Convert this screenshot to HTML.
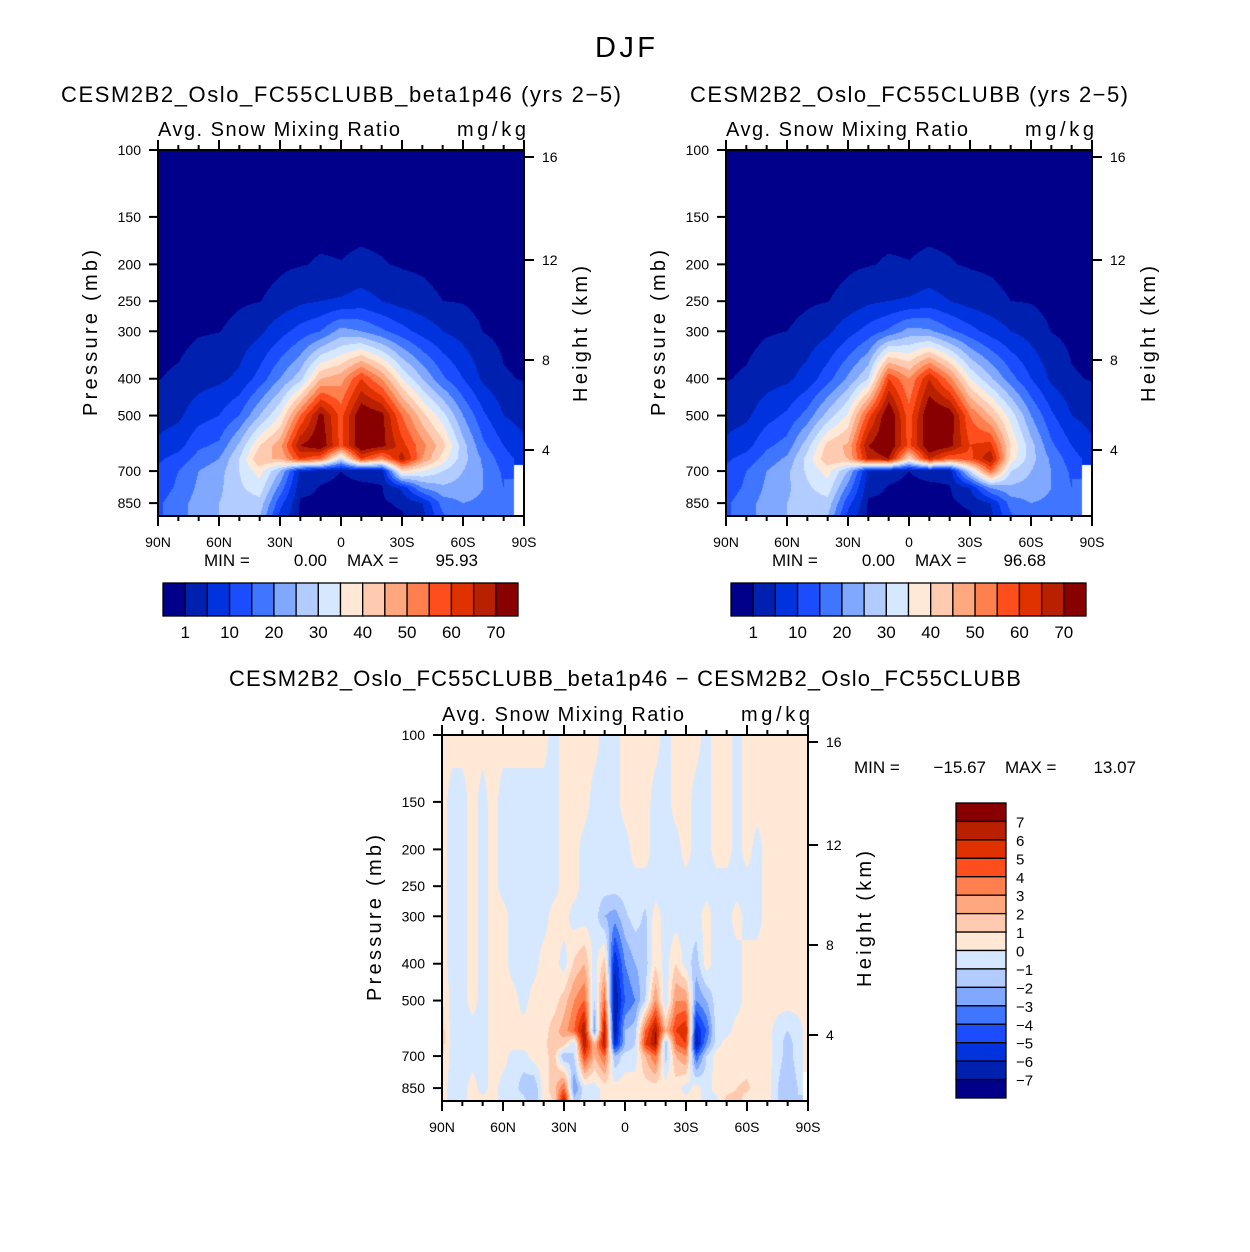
<!DOCTYPE html>
<html><head><meta charset="utf-8"><style>
html,body{margin:0;padding:0;background:#fff}
#root{position:relative;width:1250px;height:1252px;background:#fff;overflow:hidden}
canvas{position:absolute}
svg{position:absolute;left:0;top:0}
text{font-family:"Liberation Sans",sans-serif;fill:#000}
</style></head><body>
<div id="root">
<canvas id="c1" width="366" height="366" style="left:158px;top:150px"></canvas>
<canvas id="c2" width="366" height="366" style="left:726px;top:150px"></canvas>
<canvas id="c3" width="366" height="366" style="left:442px;top:735px"></canvas>
<svg id="ov" width="1250" height="1252">
<text x="625" y="57" font-size="29" text-anchor="middle" textLength="60">DJF</text>
<text x="61" y="102" font-size="22" textLength="560">CESM2B2_Oslo_FC55CLUBB_beta1p46 (yrs 2−5)</text>
<text x="690" y="102" font-size="22" textLength="438">CESM2B2_Oslo_FC55CLUBB (yrs 2−5)</text>
<text x="229" y="686" font-size="22" textLength="792">CESM2B2_Oslo_FC55CLUBB_beta1p46 − CESM2B2_Oslo_FC55CLUBB</text>
<g>
<text x="854" y="773" font-size="17">MIN =</text>
<text x="986" y="773" font-size="17" text-anchor="end">−15.67</text>
<text x="1005" y="773" font-size="17">MAX =</text>
<text x="1136" y="773" font-size="17" text-anchor="end">13.07</text>
</g>
</svg>
</div>
<script>
// ---------- data ----------
const levelsAbs = [100,150,200,250,300,400,500,600,650,700,775,850,925];
const levelsDiff = [100,150,200,250,300,400,500,600,650,700,850,925];
const latsCoarse = ['90N','80N','70N','60N','50N','40N','30N','20N','10N','0','10S','20S','30S','40S','50S','60S','70S','80S','90S'];
const absLevels = [1,5,10,15,20,25,30,35,40,45,50,55,60,65,70];
const absLabels = ['1','10','20','30','40','50','60','70'];
const diffLevels = [-7,-6,-5,-4,-3,-2,-1,0,1,2,3,4,5,6,7];
const diffLabels = ['7','6','5','4','3','2','1','0','−1','−2','−3','−4','−5','−6','−7'];
const xTickLabels = ['90N','60N','30N','0','30S','60S','90S'];
const pTicks = [100,150,200,250,300,400,500,700,850];
const hTicks = ['16','12','8','4'];
const hTickY = [7,110,210,300];
const palette = ['#00008a','#0021b0','#0033dd','#1b4dff','#4076ff','#80a8ff','#b3ccff','#d6e8ff','#ffe8d6','#ffcbb0','#ffa880','#ff7f4e','#ff4e1d','#e03200','#b82000','#880000'];
const N = NaN;
// panel 1 columns (90N..90S), values at levelsAbs
const field1 = [
[0,0,0,0,0,0.9,3,6,9,11,12,14,14],
[0,0,0,0,0,1.5,4,8,12,15,16,18,18],
[0,0,0,0,0.7,3,8,14,17,20,21,22,22],
[0,0,0,0,0.9,4,10,16,20,23,24,25,25],
[0,0,0,0.6,2,6,15,26,30,30,29,27,26],
[0,0,0,0.9,4,12,25,40,45,37,33,28,25],
[0,0,0.5,2,8,20,35,48,45,25,18,12,8],
[0,0,0.8,4,12,28,55,70,60,4,2,0.5,0.5],
[0,0,1.3,5,15,45,72,75,55,2,0.8,0.5,0.5],
[0,0,1.1,5.5,22,48,58,58,30,1,0.4,0.3,0.3],
[0,0,1.6,7,20,60,75,76,60,2,0.4,0.3,0.3],
[0,0,1.2,5,16,50,72,72,50,2,0.8,0.5,0.5],
[0,0,0.7,3,12,35,55,62,68,40,6,1.5,0.5],
[0,0,0.5,2,8,25,42,52,50,35,20,5,3],
[0,0,0,1,5,16,32,42,38,30,24,17,14],
[0,0,0,0.8,3,10,20,27,27,25,23,20,19],
[0,0,0,0,0.9,4,11,16,19,20,20,19,18],
[0,0,0,0,0.3,1.3,5,10,12,14,15,15,15],
[0,0,0,0,0,0.8,3,6,8,N,N,N,N]];
const field2 = [
[0,0,0,0,0,0.8,3,6,9,11,12,14,14],
[0,0,0,0,0,1.4,4,8,12,15,16,18,18],
[0,0,0,0,0.7,3,8,14,17,20,21,22,22],
[0,0,0,0,1,4,11,17,21,24,24,25,25],
[0,0,0,0.6,2,7,17,28,32,31,29,27,26],
[0,0,0,0.9,4,13,27,42,44,37,33,28,25],
[0,0,0.5,2,8,21,36,46,45,25,18,12,8],
[0,0,0.8,4,12,30,58,70,66,4,2,0.5,0.5],
[0,0,1.3,5,16,60,76,76,70,2,0.8,0.5,0.5],
[0,0,1.1,5.5,22,50,57,58,40,1,0.4,0.3,0.3],
[0,0,1.6,7,21,65,76,76,65,2,0.4,0.3,0.3],
[0,0,1.2,5,16,52,74,72,55,2,0.8,0.5,0.5],
[0,0,0.7,3,12,35,55,60,58,30,5,1.5,0.5],
[0,0,0.5,2,8,26,45,62,70,55,20,5,3],
[0,0,0,1,5,17,33,40,38,30,24,17,14],
[0,0,0,0.8,3,10,20,27,27,25,23,20,19],
[0,0,0,0,0.9,4,11,16,19,20,20,19,18],
[0,0,0,0,0.3,1.3,5,10,12,14,15,15,15],
[0,0,0,0,0,0.8,3,6,8,N,N,N,N]];
// panel 3 rows (one per levelsDiff), 37 latitudes 90N..90S step 5
const diffRows = [
[0.5,0.5,0.5,0.5,0.5,0.5,0.5,0.5,0.5,0.5,0.5,-0.5,0.5,0.5,0.5,0.5,-0.5,-0.5,0.5,0.5,0.5,0.5,-0.5,0.5,0.5,0.5,-0.5,0.5,0.5,-0.5,0.5,0.5,0.5,0.5,0.5,0.5,0.5],
[0.5,-0.5,-0.5,0.5,-0.5,0.5,-0.5,-0.5,-0.5,-0.5,-0.5,-0.5,0.5,0.5,0.5,-0.5,-0.5,-0.5,0.5,0.5,0.5,-0.5,-0.5,0.5,0.5,-0.5,-0.5,0.5,0.5,-0.5,0.5,0.5,0.5,0.5,0.5,0.5,0.5],
[0.5,-0.5,-0.5,0.5,-0.5,0.5,-0.5,-0.5,-0.5,-0.5,-0.5,-0.5,0.5,0.5,-0.5,-0.5,-0.5,-0.5,-0.5,0.5,0.5,-0.5,-0.5,-0.5,0.5,-0.5,-0.5,0.5,0.5,-0.5,0.5,-0.5,0.5,0.5,0.5,0.5,0.5],
[0.5,-0.5,-0.5,0.5,-0.5,0.5,-0.5,-0.5,-0.5,-0.5,-0.5,-0.5,0.5,0.5,-0.5,-0.5,-0.5,-0.5,-0.5,-0.5,-0.5,-0.5,-0.5,-0.5,-0.5,-0.5,-0.5,-0.5,-0.5,-0.5,-0.5,-0.5,0.5,0.5,0.5,0.5,0.5],
[0.5,-0.5,-0.5,0.5,-0.5,0.5,0.5,-0.5,-0.5,-0.5,-0.5,0.5,0.5,-0.5,-0.5,-0.5,-2,-2.5,-1.2,-0.5,-1.2,0.5,-0.5,-0.5,-0.5,-0.5,0.5,-0.5,-0.5,0.5,-0.5,-0.5,0.5,0.5,0.5,0.5,0.5],
[0.5,-0.5,-0.5,0.5,-0.5,0.5,0.5,-0.5,-0.5,-0.5,0.5,0.5,-0.5,1.2,2,-0.5,1.5,-6,-3,-2,-1.5,0.8,-0.5,1,-0.5,-1.5,0.5,-0.5,-0.5,-0.5,0.5,0.5,0.5,0.5,0.5,0.5,0.5],
[1.2,-0.5,-0.5,0.5,-0.5,0.5,0.5,0.5,-0.5,0.5,0.5,0.5,1.5,3,4,-1,4,-7,-4,-3,-1,3,-1,3,3,-3,-2,-0.5,-0.5,-0.5,0.5,0.5,0.5,0.5,0.5,0.5,0.5],
[1.5,-0.5,-0.5,-0.5,-0.5,0.5,0.5,0.5,0.5,0.5,0.5,1.5,2.5,4,7,-3,7,-7,-2,-1.5,4,7,2,5,6,-6,-4,-0.5,-0.5,0.5,0.5,0.5,0.5,-0.5,-1,-0.5,0.5],
[1.5,-0.5,-0.5,-0.5,-0.5,0.5,0.5,0.5,0.5,0.5,0.5,2,1.5,-1,7,2,7,-6,-2,-1,5,7,-2,4,5,-7,-3,-0.5,0.5,0.5,0.5,0.5,0.5,-0.5,-1.5,-0.5,0.5],
[1.2,-0.5,-0.5,-0.5,-0.5,0.5,0.5,-0.5,-0.5,0.5,0.5,1.5,-2,-1,5,2,4,-2,-0.5,-0.5,2,4,-1.5,2,3,-4,-1,0.5,0.5,0.5,0.5,0.5,0.5,-0.5,-1.5,-0.5,0.5],
[0.5,-0.5,-0.5,0.5,-0.5,0.5,-0.5,-0.5,-1.5,-2,0.5,1.5,4,-3,-0.5,-0.5,0.5,0.5,0.5,0.5,0.5,0.5,0.5,0.5,-0.5,0.5,-0.5,0.5,0.5,1,1.2,0.5,0.5,-1,-2,-1,N],
[0.5,-0.5,-0.5,0.5,0.5,0.5,-0.5,-0.5,-0.5,-2,0.5,1,7,-1.5,-0.5,-0.5,0.5,0.5,0.5,0.5,0.5,0.5,0.5,0.5,0.5,0.5,-0.5,-0.5,1.5,1.5,0.5,0.5,0.5,-1,-2,-1.5,N]];

// ---------- axes helpers ----------
const K = 165, PW = 366, PH = 366;
function yOfP(p){ return K*Math.log(p/100); }
function pOfY(y){ return 100*Math.exp(y/K); }
function lev2idx(v, bounds){ let k=0; for(const b of bounds){ if(v>=b) k++; } return k; }
function sample(get, levs, nLat, u, p){
  const nLev = levs.length;
  let j = 0; while(j < nLev-2 && p > levs[j+1]) j++;
  let t = (Math.log(p)-Math.log(levs[j]))/(Math.log(levs[j+1])-Math.log(levs[j]));
  t = Math.max(0, Math.min(1, t));
  let i = Math.min(nLat-2, Math.floor(u)); let s = u - i;
  const a=get(i,j), b=get(i+1,j), c=get(i,j+1), d=get(i+1,j+1);
  if(isNaN(a)||isNaN(b)||isNaN(c)||isNaN(d)){
    const ni = s<0.5? i : i+1, nj = t<0.5? j : j+1; return get(ni,nj);
  }
  return (a*(1-s)+b*s)*(1-t) + (c*(1-s)+d*s)*t;
}
function drawField(id, get, levs, nLat, bounds){
  const cv = document.getElementById(id), ctx = cv.getContext('2d');
  const img = ctx.createImageData(PW, PH);
  const rgb = palette.map(h=>[parseInt(h.substr(1,2),16),parseInt(h.substr(3,2),16),parseInt(h.substr(5,2),16)]);
  for(let y=0;y<PH;y++){
    const p = pOfY(y+0.5);
    for(let x=0;x<PW;x++){
      const u = (x+0.5)/PW*(nLat-1);
      const v = sample(get, levs, nLat, u, p);
      const o = (y*PW+x)*4;
      if(isNaN(v)){ img.data[o]=255;img.data[o+1]=255;img.data[o+2]=255;img.data[o+3]=255; continue; }
      const c = rgb[lev2idx(v,bounds)];
      img.data[o]=c[0];img.data[o+1]=c[1];img.data[o+2]=c[2];img.data[o+3]=255;
    }
  }
  ctx.putImageData(img,0,0);
}
drawField('c1', (i,j)=>field1[i][j], levelsAbs, latsCoarse.length, absLevels);
drawField('c2', (i,j)=>field2[i][j], levelsAbs, latsCoarse.length, absLevels);
drawField('c3', (i,j)=>diffRows[j][i], levelsDiff, 37, diffLevels);

const NS='http://www.w3.org/2000/svg', ov=document.getElementById('ov');
function mk(tag, attrs, txt){ const e=document.createElementNS(NS,tag); for(const k in attrs) e.setAttribute(k,attrs[k]); if(txt!==undefined) e.textContent=txt; ov.appendChild(e); return e; }

function axes(x0,y0,tag){
  let e = mk('rect',{x:x0,y:y0,width:PW,height:PH,fill:'none',stroke:'#000','stroke-width':2});
  
  
  for(let k=0;k<=18;k++){
    const x = x0 + k*PW/18, len = (k%3===0)?10:5;
    e = mk('line',{x1:x,x2:x,y1:y0,y2:y0-len,stroke:'#000','stroke-width':2});
    
    
    e = mk('line',{x1:x,x2:x,y1:y0+PH,y2:y0+PH+len,stroke:'#000','stroke-width':2});
    
    
  }
  xTickLabels.forEach((l,k)=>{
    const t = mk('text',{x:x0+k*PW/6,y:y0+PH+31,'font-size':14,'text-anchor':'middle'},l);
    
    
  });
  pTicks.forEach(p=>{
    const y = y0 + yOfP(p);
    const l = mk('line',{x1:x0,x2:x0-9,y1:y,y2:y,stroke:'#000','stroke-width':2});
    
    
    const t = mk('text',{x:x0-17,y:y+5,'font-size':14,'text-anchor':'end'},String(p));
    
    
  });
  hTicks.forEach((h,k)=>{
    const y = y0 + hTickY[k];
    const l = mk('line',{x1:x0+PW,x2:x0+PW+10,y1:y,y2:y,stroke:'#000','stroke-width':2});
    
    
    const t = mk('text',{x:x0+PW+18,y:y+5,'font-size':14},h);
    
    
  });
  let t = mk('text',{x:0,y:0,'font-size':20,'text-anchor':'middle',textLength:166,transform:`translate(${x0-61},${y0+183}) rotate(-90)`},'Pressure (mb)');
  
  
  t = mk('text',{x:0,y:0,'font-size':20,'text-anchor':'middle',textLength:136,transform:`translate(${x0+PW+63},${y0+184}) rotate(-90)`},'Height (km)');
  
  
  t = mk('text',{x:x0,y:y0-14,'font-size':20,textLength:242},'Avg. Snow Mixing Ratio');
  
  
  t = mk('text',{x:x0+PW+2,y:y0-14,'font-size':20,'text-anchor':'end',textLength:69},'mg/kg');
  
  
}
axes(158,150,'panel1');
axes(726,150,'panel2');
axes(442,735,'panel3');

function minmax(x0,mn,mx,tag){
  let t = mk('text',{x:x0+46,y:566,'font-size':17},'MIN =');
  
  
  t = mk('text',{x:x0+169,y:566,'font-size':17,'text-anchor':'end'},mn);
  
  
  t = mk('text',{x:x0+189,y:566,'font-size':17},'MAX =');
  
  
  t = mk('text',{x:x0+320,y:566,'font-size':17,'text-anchor':'end'},mx);
  
  
}
minmax(158,'0.00','95.93','panel1');
minmax(726,'0.00','96.68','panel2');

function hbar(x0,tag){
  const bw = 355/16;
  palette.forEach((c,k)=>{
    const r = mk('rect',{x:x0+k*bw,y:583,width:bw,height:33,fill:c,stroke:'#000','stroke-width':1.3});
    
    
  });
  absLabels.forEach((l,k)=>{
    const t = mk('text',{x:x0+(2*k+1)*bw,y:638,'font-size':17,'text-anchor':'middle'},l);
    
    
  });
}
hbar(163,'panel1');
hbar(731,'panel2');

(function vbar(){
  const bh = 295/16;
  palette.slice().reverse().forEach((c,k)=>{
    const r = mk('rect',{x:956,y:803+k*bh,width:50,height:bh,fill:c,stroke:'#000','stroke-width':1.3});
    
    
  });
  diffLabels.forEach((l,k)=>{
    const t = mk('text',{x:1016,y:803+(k+1)*bh+6,'font-size':15},l);
    
    
  });
})();
</script>
</body></html>
